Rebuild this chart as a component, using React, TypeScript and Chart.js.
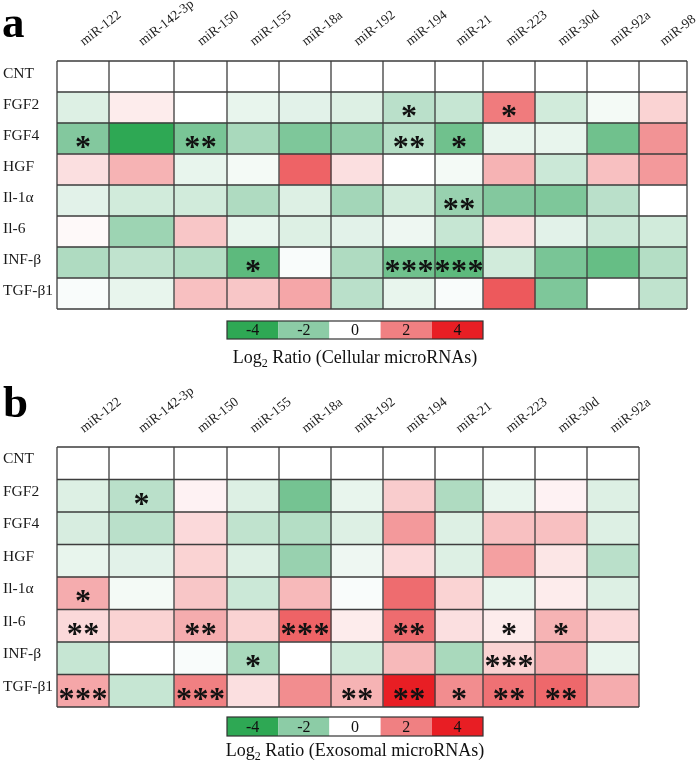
import React, { useEffect, useRef } from "react";
import { Chart, registerables } from "chart.js";

Chart.register(...registerables);

// ---------------- data ----------------
const ROW_LABELS = ["CNT", "FGF2", "FGF4", "HGF", "Il-1α", "Il-6", "INF-β", "TGF-β1"];

const CELLULAR_MIRNAS = [
  "miR-122", "miR-142-3p", "miR-150", "miR-155", "miR-18a", "miR-192",
  "miR-194", "miR-21", "miR-223", "miR-30d", "miR-92a", "miR-98",
];

const EXOSOMAL_MIRNAS = [
  "miR-122", "miR-142-3p", "miR-150", "miR-155", "miR-18a", "miR-192",
  "miR-194", "miR-21", "miR-223", "miR-30d", "miR-92a",
];

// log2 ratio, rows = ROW_LABELS, cols = CELLULAR_MIRNAS
const CELLULAR_LOG2 = [
  [0, 0, 0, 0, 0, 0, 0, 0, 0, 0, 0, 0],
  [-0.6, 0.3, 0, -0.4, -0.5, -0.6, -1.2, -1.0, 2.1, -0.8, -0.2, 0.7],
  [-2.2, -4.0, -2.4, -1.5, -2.3, -1.9, -1.3, -2.6, -0.4, -0.4, -2.6, 1.7],
  [0.5, 1.2, -0.4, -0.2, 2.6, 0.5, 0, -0.2, 1.2, -0.9, 1.0, 1.6],
  [-0.5, -0.8, -0.8, -1.4, -0.6, -1.6, -0.8, -1.8, -2.2, -2.3, -1.2, 0],
  [0.1, -1.7, 0.9, -0.4, -0.6, -0.5, -0.3, -1.0, 0.5, -0.5, -0.9, -0.8],
  [-1.4, -1.1, -1.3, -3.0, -0.1, -1.4, -2.6, -3.0, -0.8, -2.4, -2.8, -1.3],
  [-0.1, -0.4, 1.0, 0.9, 1.4, -1.2, -0.4, -0.1, 2.8, -2.3, 0, -1.1],
];

// number of significance asterisks
const CELLULAR_STARS = [
  [0, 0, 0, 0, 0, 0, 0, 0, 0, 0, 0, 0],
  [0, 0, 0, 0, 0, 0, 1, 0, 1, 0, 0, 0],
  [1, 0, 2, 0, 0, 0, 2, 1, 0, 0, 0, 0],
  [0, 0, 0, 0, 0, 0, 0, 0, 0, 0, 0, 0],
  [0, 0, 0, 0, 0, 0, 0, 2, 0, 0, 0, 0],
  [0, 0, 0, 0, 0, 0, 0, 0, 0, 0, 0, 0],
  [0, 0, 0, 1, 0, 0, 3, 3, 0, 0, 0, 0],
  [0, 0, 0, 0, 0, 0, 0, 0, 0, 0, 0, 0],
];

const EXOSOMAL_LOG2 = [
  [0, 0, 0, 0, 0, 0, 0, 0, 0, 0, 0],
  [-0.6, -1.2, 0.2, -0.6, -2.5, -0.4, 0.8, -1.4, -0.4, 0.2, -0.6],
  [-0.7, -1.2, 0.6, -1.1, -1.3, -0.6, 1.6, -0.6, 1.0, 1.0, -0.6],
  [-0.4, -0.5, 0.7, -0.6, -1.8, -0.3, 0.6, -0.6, 1.5, 0.4, -1.2],
  [1.3, -0.2, 0.9, -0.9, 1.1, -0.1, 2.4, 0.7, -0.4, 0.3, -0.6],
  [0.6, 0.7, 1.3, 0.7, 2.6, 0.3, 2.4, 0.5, 0.3, 1.2, 0.6],
  [-1.0, 0, -0.1, -1.5, 0, -0.8, 1.1, -1.5, 0.7, 1.3, -0.4],
  [1.4, -1.0, 2.0, 0.5, 1.8, 1.2, 4.0, 1.8, 2.3, 2.5, 1.3],
];

const EXOSOMAL_STARS = [
  [0, 0, 0, 0, 0, 0, 0, 0, 0, 0, 0],
  [0, 1, 0, 0, 0, 0, 0, 0, 0, 0, 0],
  [0, 0, 0, 0, 0, 0, 0, 0, 0, 0, 0],
  [0, 0, 0, 0, 0, 0, 0, 0, 0, 0, 0],
  [1, 0, 0, 0, 0, 0, 0, 0, 0, 0, 0],
  [2, 0, 2, 0, 3, 0, 2, 0, 1, 1, 0],
  [0, 0, 0, 1, 0, 0, 0, 0, 3, 0, 0],
  [3, 0, 3, 0, 0, 2, 2, 1, 2, 2, 0],
];

const SCALE_TICKS = [-4, -2, 0, 2, 4];

// ---------------- layout / style ----------------
const COLUMN_WIDTHS = [52, 65, 53, 52, 52, 52, 52, 48, 52, 52, 52, 48];
const SERIF = '"Liberation Serif", "Times New Roman", serif';
const COLOR_STOPS: [number, number[]][] = [
  [-4, [46, 168, 84]],
  [-2, [140, 204, 166]],
  [0, [255, 255, 255]],
  [2, [240, 128, 130]],
  [4, [232, 30, 36]],
];

function colorFor(v: number): string {
  const c = Math.max(-4, Math.min(4, v));
  for (let i = 0; i < COLOR_STOPS.length - 1; i++) {
    const [a, ca] = COLOR_STOPS[i];
    const [b, cb] = COLOR_STOPS[i + 1];
    if (c >= a && c <= b) {
      const t = (c - a) / (b - a);
      const r = Math.round(ca[0] + (cb[0] - ca[0]) * t);
      const g = Math.round(ca[1] + (cb[1] - ca[1]) * t);
      const bl = Math.round(ca[2] + (cb[2] - ca[2]) * t);
      return `rgb(${r},${g},${bl})`;
    }
  }
  return "#fff";
}

interface PanelSpec {
  letter: string;
  cols: string[];
  values: number[][];
  stars: number[][];
  title: string;
  gridTop: number;
  gridBottom: number;
  labelGap: number;
  letterBaseline: number;
  letterX: number;
  barTop: number;
  barBottom: number;
  titleBaseline: number;
  rowLabelOffset: number;
}

function makePlugin(p: PanelSpec) {
  const widths = COLUMN_WIDTHS.slice(0, p.cols.length);
  const bounds = [0];
  widths.forEach((w) => bounds.push(bounds[bounds.length - 1] + w));
  return {
    id: "heatDecor",
    afterDatasetsDraw(chart: any) {
      const { ctx, chartArea } = chart;
      const x = chart.scales.x;
      const y = chart.scales.y;
      ctx.save();
      // grid lines
      ctx.strokeStyle = "#3d3d3d";
      ctx.lineWidth = 1.3;
      ctx.beginPath();
      bounds.forEach((b) => {
        const px = x.getPixelForValue(b);
        ctx.moveTo(px, chartArea.top);
        ctx.lineTo(px, chartArea.bottom);
      });
      for (let i = 0; i <= ROW_LABELS.length; i++) {
        const py = y.getPixelForValue(i - 0.5);
        ctx.moveTo(chartArea.left, py);
        ctx.lineTo(chartArea.right, py);
      }
      ctx.stroke();

      // asterisks
      const S = 32;
      ctx.fillStyle = "#111";
      ctx.font = `bold ${S}px ${SERIF}`;
      ctx.textAlign = "center";
      ctx.textBaseline = "alphabetic";
      p.stars.forEach((row, i) => {
        row.forEach((k, j) => {
          if (!k) return;
          const cx = x.getPixelForValue(bounds[j] + widths[j] / 2);
          const cy = y.getPixelForValue(i);
          for (let s = 0; s < k; s++) {
            const sx = cx + (s - (k - 1) / 2) * 16.5;
            ctx.fillText("*", sx, cy + 0.5 * S + 2);
          }
        });
      });

      // column labels
      ctx.font = `13.5px ${SERIF}`;
      ctx.fillStyle = "#222";
      ctx.textAlign = "left";
      p.cols.forEach((c, j) => {
        const cx = x.getPixelForValue(bounds[j] + widths[j] / 2);
        ctx.save();
        ctx.translate(cx + 1, chartArea.top - p.labelGap);
        ctx.rotate((-38 * Math.PI) / 180);
        ctx.fillText(c, 0, 0);
        ctx.restore();
      });
      ctx.restore();
    },
    afterDraw(chart: any) {
      const { ctx } = chart;
      ctx.save();
      // panel letter
      ctx.fillStyle = "#000";
      ctx.font = `bold 45px ${SERIF}`;
      ctx.textAlign = "left";
      ctx.textBaseline = "alphabetic";
      ctx.fillText(p.letter, p.letterX, p.letterBaseline);

      // colour bar
      const x0 = 227;
      const segW = 51.2;
      const h = p.barBottom - p.barTop;
      SCALE_TICKS.forEach((t, i) => {
        ctx.fillStyle = colorFor(t);
        ctx.fillRect(x0 + i * segW, p.barTop, segW, h);
      });
      ctx.strokeStyle = "#333";
      ctx.lineWidth = 1.2;
      ctx.strokeRect(x0, p.barTop, segW * SCALE_TICKS.length, h);
      ctx.fillStyle = "#111";
      ctx.font = `16px ${SERIF}`;
      ctx.textAlign = "center";
      ctx.textBaseline = "middle";
      SCALE_TICKS.forEach((t, i) => {
        ctx.fillText(String(t), x0 + i * segW + segW / 2, p.barTop + h / 2 + 1);
      });

      // title with subscript
      const big = `18px ${SERIF}`;
      const small = `12px ${SERIF}`;
      ctx.textAlign = "left";
      ctx.textBaseline = "alphabetic";
      ctx.font = big;
      const w1 = ctx.measureText("Log").width;
      const w3 = ctx.measureText(p.title).width;
      ctx.font = small;
      const w2 = ctx.measureText("2").width;
      const total = w1 + w2 + w3;
      let tx = 355 - total / 2;
      ctx.font = big;
      ctx.fillText("Log", tx, p.titleBaseline);
      tx += w1;
      ctx.font = small;
      ctx.fillText("2", tx, p.titleBaseline + 4);
      tx += w2;
      ctx.font = big;
      ctx.fillText(p.title, tx, p.titleBaseline);
      ctx.restore();
    },
  };
}

function Panel({ spec, height }: { spec: PanelSpec; height: number }) {
  const ref = useRef<HTMLCanvasElement | null>(null);
  useEffect(() => {
    if (!ref.current) return;
    const widths = COLUMN_WIDTHS.slice(0, spec.cols.length);
    const total = widths.reduce((a, b) => a + b, 0);
    const gridLeft = 57;
    const chart = new Chart(ref.current, {
      type: "bar",
      data: {
        labels: ROW_LABELS,
        datasets: spec.cols.map((c, j) => ({
          label: c,
          data: ROW_LABELS.map(() => widths[j]),
          backgroundColor: spec.values.map((row) => colorFor(row[j])),
          borderWidth: 0,
          barPercentage: 1,
          categoryPercentage: 1,
        })),
      },
      options: {
        indexAxis: "y",
        animation: false,
        responsive: false,
        events: [],
        layout: {
          padding: {
            left: 3,
            top: spec.gridTop,
            right: 700 - gridLeft - total,
            bottom: height - spec.gridBottom,
          },
        },
        scales: {
          x: { type: "linear", stacked: true, min: 0, max: total, display: false },
          y: {
            type: "category",
            stacked: true,
            position: "left",
            grid: { display: false, drawTicks: false },
            border: { display: false },
            ticks: {
              autoSkip: false,
              crossAlign: "far",
              padding: 0,
              labelOffset: spec.rowLabelOffset,
              color: "#1a1a1a",
              font: { family: SERIF, size: 15.5 },
            },
            afterFit: (s: any) => {
              s.width = gridLeft - 3;
            },
          },
        },
        plugins: { legend: { display: false }, tooltip: { enabled: false } },
      } as any,
      plugins: [makePlugin(spec)],
    });
    return () => chart.destroy();
  }, [spec, height]);
  return (
    <canvas
      ref={ref}
      width={700}
      height={height}
      style={{ display: "block", width: 700, height }}
    />
  );
}

const PANEL_A: PanelSpec = {
  letter: "a",
  cols: CELLULAR_MIRNAS,
  values: CELLULAR_LOG2,
  stars: CELLULAR_STARS,
  title: " Ratio (Cellular microRNAs)",
  gridTop: 61,
  gridBottom: 309,
  labelGap: 15,
  letterBaseline: 37,
  letterX: 2,
  barTop: 321,
  barBottom: 339,
  titleBaseline: 363,
  rowLabelOffset: -3,
};

const PANEL_B: PanelSpec = {
  letter: "b",
  cols: EXOSOMAL_MIRNAS,
  values: EXOSOMAL_LOG2,
  stars: EXOSOMAL_STARS,
  title: " Ratio (Exosomal microRNAs)",
  gridTop: 65,
  gridBottom: 325,
  labelGap: 14,
  letterBaseline: 35,
  letterX: 3,
  barTop: 335,
  barBottom: 354,
  titleBaseline: 374,
  rowLabelOffset: -4,
};

export default function App() {
  return (
    <div
      style={{
        position: "absolute",
        left: 0,
        top: 0,
        width: 700,
        height: 764,
        background: "#fff",
      }}
    >
      <Panel spec={PANEL_A} height={382} />
      <Panel spec={PANEL_B} height={382} />
    </div>
  );
}
